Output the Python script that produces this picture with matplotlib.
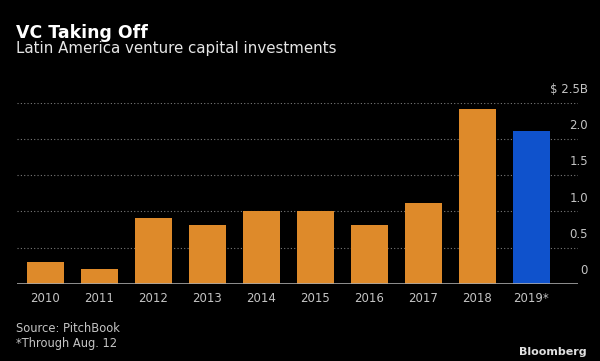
import matplotlib
matplotlib.use("Agg")
import matplotlib.pyplot as plt
import matplotlib.transforms as mtransforms

# data ($ billions)
years = ["2010", "2011", "2012", "2013", "2014", "2015", "2016", "2017", "2018", "2019*"]
values = [0.30, 0.20, 0.91, 0.81, 1.01, 1.01, 0.81, 1.12, 2.42, 2.11]
y_ticks = [0, 0.5, 1.0, 1.5, 2.0, 2.5]
y_tick_labels = ["0", "0.5", "1.0", "1.5", "2.0", "$ 2.5B"]

ORANGE = "#DE8A2A"
BLUE = "#0F52CC"
BG = "black"
TICK_GRAY = "#C4C4C4"

plt.rcParams["font.family"] = ["DejaVu Sans"]

fig = plt.figure(figsize=(6.0, 3.61), dpi=100, facecolor=BG)
ax = fig.add_axes([0.0283, 0.2133, 0.935, 0.5022], facecolor=BG)

colors = [ORANGE] * (len(years) - 1) + [BLUE]
x = list(range(len(years)))
ax.bar(x, values, width=0.68, color=colors, zorder=3)

ax.set_xlim(-0.524, 9.865)
ax.set_ylim(0, 2.5)

# dotted gridlines, solid baseline
for t in y_ticks[1:]:
    ax.axhline(t, color="#7A7A7A", linestyle=(0, (1, 2)), linewidth=0.8, zorder=1)
ax.axhline(0, color="#A8A8A8", linewidth=1.2, zorder=4)

for s in ax.spines.values():
    s.set_visible(False)

ax.set_xticks(x)
ax.set_xticklabels(years, color=TICK_GRAY, fontsize=8.5)
ax.tick_params(axis="x", length=0, pad=6)
ax.set_yticks([])

# y labels sit above their gridline, right of the plot
trans = mtransforms.blended_transform_factory(fig.transFigure, ax.transData)
offset = mtransforms.ScaledTranslation(0, 5 / 72, fig.dpi_scale_trans)
for t, lab in zip(y_ticks, y_tick_labels):
    ax.text(588 / 600, t, lab, transform=trans + offset, ha="right", va="bottom",
            color=TICK_GRAY, fontsize=8.5)

fig.text(16 / 600, 1 - 33 / 361, "VC Taking Off", color="white", fontsize=12.5,
         fontweight="bold", ha="left", va="center")
fig.text(16 / 600, 1 - 48 / 361, "Latin America venture capital investments",
         color="#E6E6E6", fontsize=10.8, ha="left", va="center")

fig.text(16 / 600, 1 - 328 / 361, "Source: PitchBook", color=TICK_GRAY,
         fontsize=8.3, ha="left", va="center")
fig.text(16 / 600, 1 - 344 / 361, "*Through Aug. 12", color=TICK_GRAY,
         fontsize=8.3, ha="left", va="center")
fig.text(587 / 600, 1 - 352 / 361, "Bloomberg", color="#E0E0E0", fontsize=8,
         fontweight="bold", ha="right", va="center")

fig.savefig("out.png", dpi=100, facecolor=BG)
